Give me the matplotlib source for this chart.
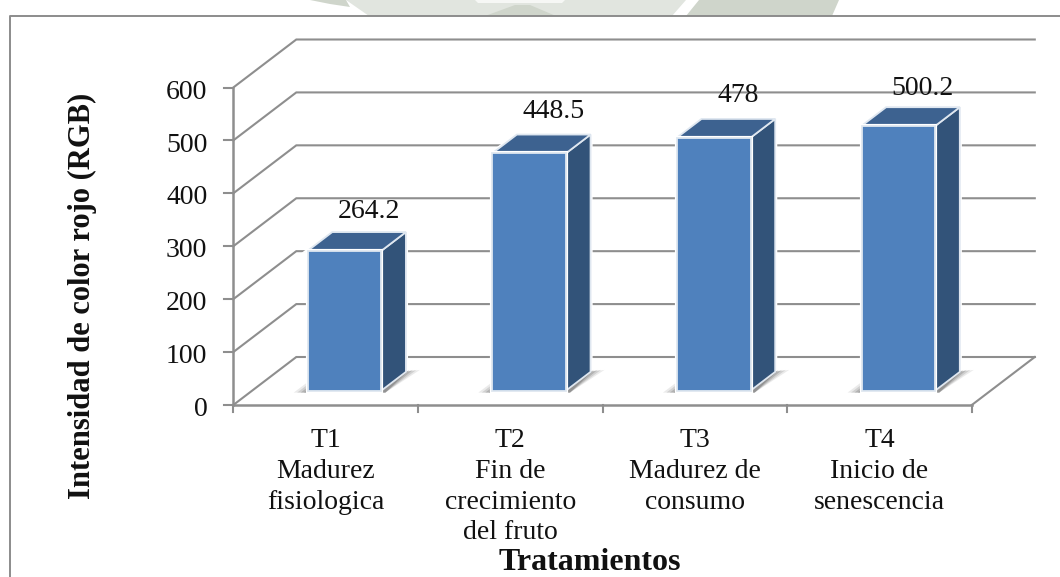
import matplotlib
matplotlib.use("Agg")
import matplotlib.pyplot as plt
from matplotlib.patches import Polygon
from matplotlib.transforms import Affine2D

# datos
tratamientos = ["T1\nMadurez\nfisiologica", "T2\nFin de\ncrecimiento\ndel fruto",
                "T3\nMadurez de\nconsumo", "T4\nInicio de\nsenescencia"]
valores = [264.2, 448.5, 478, 500.2]
etiquetas = ["264.2", "448.5", "478", "500.2"]
ticks_y = [0, 100, 200, 300, 400, 500, 600]

W, H = 1060, 577
plt.rcParams["font.family"] = ["Liberation Serif", "DejaVu Serif"]
plt.rcParams["font.size"] = 20

fig = plt.figure(figsize=(W / 100, H / 100), dpi=100)

# marca de agua del fondo, arriba del marco (en pixeles, origen arriba)
pix = Affine2D().scale(1 / W, -1 / H).translate(0, 1) + fig.transFigure
for pts, col in [
    ([(346, 0), (686, 0), (672, 16), (369, 16)], "#e1e5df"),
    ([(699, 0), (839, 0), (832, 16), (686, 16)], "#cfd5cb"),
    ([(485, 16), (515, 5), (530, 5), (556, 16)], "#cfd5cb"),
    ([(310, 0), (346, 0), (350, 7), (330, 4)], "#cfd5cb"),
    ([(475, 0), (565, 0), (562, 3), (478, 3)], "#f6f7f5"),
]:
    fig.add_artist(Polygon(pts, closed=True, fc=col, ec="none", transform=pix))

ax = fig.add_axes([233.3 / W, 1 - 405 / H, 738.5 / W, 317.5 / H])
ax.set_xlim(0, 4)
ax.set_ylim(0, 600)
ax.set_xticks([])
ax.set_yticks([])
ax.patch.set_visible(False)
for s in ax.spines.values():
    s.set_visible(False)

GRIS = "#8e8e8e"
# desplazamiento de la pared del fondo, en unidades de datos
PX_X = 738.5 / 4
PX_Y = 317.5 / 600
DX = 63 / PX_X
DY = 48 / PX_Y
ANCHO = 73.7 / PX_X
P0, P1 = 0.3, 0.69  # profundidad de la barra


def oblicuo(x, y, p):
    return (x + DX * p, y + DY * p)


# rejilla
for v in ticks_y:
    ax.plot([0, DX, 4 + DX], [v, v + DY, v + DY], color=GRIS, lw=1.5, zorder=1, clip_on=False,
            solid_joinstyle="miter")
ax.plot([4, 4 + DX], [0, DY], color=GRIS, lw=1.5, zorder=1, clip_on=False)

# ejes
ax.plot([0, 0], [0, 600], color=GRIS, lw=1.8, zorder=2, clip_on=False)
ax.plot([0, 4], [0, 0], color=GRIS, lw=1.8, zorder=2, clip_on=False)
for v in ticks_y:
    ax.plot([-9 / PX_X, 0], [v, v], color=GRIS, lw=1.5, clip_on=False, zorder=2)
    ax.text(-26 / PX_X, v - 3, str(v), ha="right", va="center_baseline", color="#111111")
for i in range(5):
    ax.plot([i, i], [0, -13], color=GRIS, lw=1.5, clip_on=False, zorder=2)

# barras
for i, v in enumerate(valores):
    x0 = i + 0.5 - ANCHO / 2
    x1 = x0 + ANCHO
    a = oblicuo(x0, 0, P0)
    b = oblicuo(x1, 0, P0)
    c = oblicuo(x1, v, P0)
    d = oblicuo(x0, v, P0)
    e = oblicuo(x1, 0, P1)
    f = oblicuo(x1, v, P1)
    g = oblicuo(x0, v, P1)
    for caras, color, z in [([b, e, f, c], "#325379", 4), ([d, c, f, g], "#3d6290", 4), ([a, b, c, d], "#4f81bd", 5)]:
        ax.add_patch(Polygon(caras, closed=True, fc=color, ec="white", lw=3, zorder=z - 0.5, clip_on=False))
        ax.add_patch(Polygon(caras, closed=True, fc=color, ec="#dfe7f0", lw=1.3, zorder=z, clip_on=False))
    # sombra sobre el piso, mas oscura junto a la barra
    for k, alfa in zip([1.0, 0.75, 0.5, 0.25], [0.12, 0.18, 0.25, 0.35]):
        sombra = [(a[0] - 14 * k / PX_X, a[1] - 2 / PX_Y),
                  (a[0] + 2 / PX_X, a[1] + 10 * k / PX_Y),
                  (e[0], e[1]),
                  (e[0] + 14 * k / PX_X, e[1] + 2 / PX_Y),
                  (b[0] + 4 / PX_X, b[1] - 2 / PX_Y)]
        ax.add_patch(Polygon(sombra, closed=True, fc="#5a5a5a", ec="none", alpha=alfa, zorder=3.7, clip_on=False))

# etiquetas de datos
sep_y = [42, 45, 45, 40]
for i, v in enumerate(valores):
    px, py = oblicuo(i + 0.5, v, P0)
    ax.annotate(etiquetas[i], (px, py), xytext=(24 * 0.72, sep_y[i] * 0.72), textcoords="offset points",
                ha="center", va="center_baseline", color="#111111", zorder=6, annotation_clip=False)

# etiquetas de categorias
for i, t in enumerate(tratamientos):
    ax.text(i + 0.5, -43, t, ha="center", va="top", linespacing=1.31, color="#111111", clip_on=False)

fig.text(82 / W, 1 - 296 / H, "Intensidad de color rojo (RGB)", rotation=90, ha="center", va="center",
         fontweight="bold", fontsize=22, color="#111111")
fig.text(590 / W, 1 - 570 / H, "Tratamientos", ha="center", va="baseline", fontweight="bold", fontsize=23,
         color="#111111")

# marco del grafico
fig.add_artist(plt.Line2D([10 / W, 10 / W, 1], [0, 1 - 16 / H, 1 - 16 / H], color="#8c8c8c", lw=1.4))

fig.savefig("out.png", dpi=100)
